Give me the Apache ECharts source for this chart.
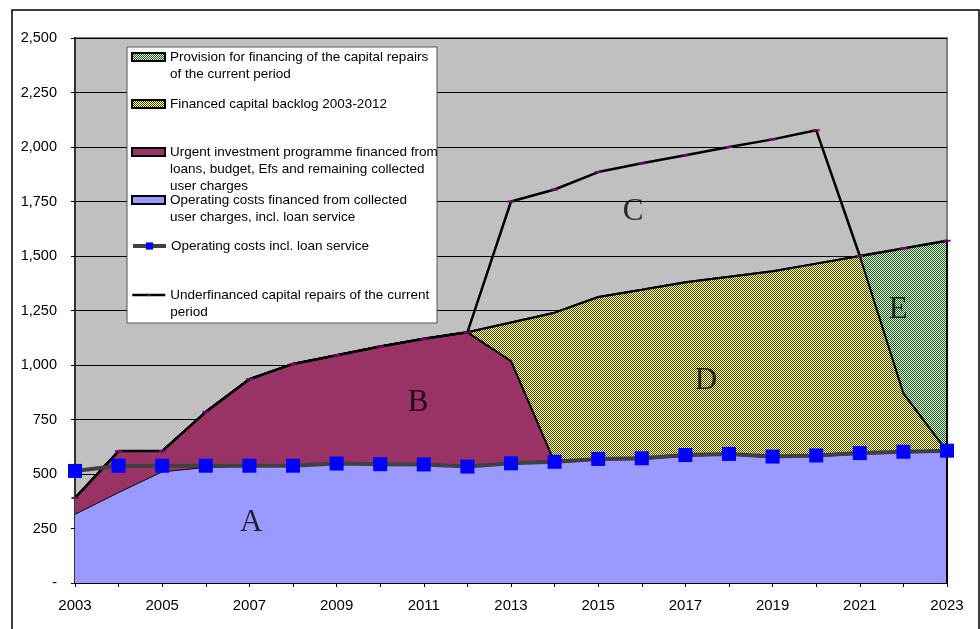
<!DOCTYPE html>
<html>
<head>
<meta charset="utf-8">
<title>Financing of operating costs and capital repairs 2003-2023</title>
<script src="https://cdn.jsdelivr.net/npm/echarts@6/dist/echarts.min.js"></script>
<style>
  html, body { margin: 0; padding: 0; background: #fff; }
  #chart { width: 980px; height: 629px; }
</style>
</head>
<body>
<div id="chart"></div>
<script>
// categories
const years = ['2003', '2004', '2005', '2006', '2007', '2008', '2009', '2010', '2011', '2012', '2013',
  '2014', '2015', '2016', '2017', '2018', '2019', '2020', '2021', '2022', '2023'];

// stacked areas (bottom to top)
const opFinanced = [315, 415, 510, 530, 535, 535, 545, 542, 541, 531, 546, 553, 566, 569, 584, 589, 577, 582, 593, 599, 604];
const urgentInvest = [75, 190, 95, 255, 400, 470, 500, 543, 579, 619, 472, 0, 0, 0, 0, 0, 0, 0, 0, 0, 0];
const backlog = [0, 0, 0, 0, 0, 0, 0, 0, 0, 0, 177, 687, 746, 776, 796, 816, 853, 883, 907, 271, 0];
const provision = [0, 0, 0, 0, 0, 0, 0, 0, 0, 0, 0, 0, 0, 0, 0, 0, 0, 0, 0, 665, 966];

// lines
const opCosts = [514, 538, 538, 538, 538, 538, 548, 545, 544, 534, 549, 556, 569, 572, 587, 592, 580, 585, 596, 602, 607];
const underfinanced = [390, 605, 605, 785, 935, 1005, 1045, 1085, 1120, 1150, 1750, 1805, 1885, 1925, 1962, 2000, 2035, 2077, 1500, 1535, 1570];

// region letters, placed in data units (year, value)
const regionNames = ['A', 'B', 'C', 'D', 'E'];
const regionYears = [2007.04, 2010.87, 2015.8, 2017.47, 2021.88];
const regionValues = [275, 826, 1701, 927, 1252];

// legend texts, already wrapped like the original
const legendLines = [
  ['Provision for financing of the capital repairs', 'of the current period'],
  ['Financed capital backlog 2003-2012'],
  ['Urgent investment programme financed from', 'loans, budget, Efs and remaining collected', 'user charges'],
  ['Operating costs financed from collected', 'user charges, incl. loan service'],
  ['Operating costs incl. loan service'],
  ['Underfinanced capital repairs of the current', 'period']
];
const names = legendLines.map(l => l.join(' '));

// 1px checker fill, like the Excel hatched areas
const checker = (light, dark) => {
  const c = document.createElement('canvas');
  c.width = 2; c.height = 2;
  const g = c.getContext('2d');
  g.fillStyle = light; g.fillRect(0, 0, 2, 2);
  g.fillStyle = dark; g.fillRect(0, 0, 1, 1); g.fillRect(1, 1, 1, 1);
  return { image: c, repeat: 'repeat' };
};
const greenFill = checker('#CCFFCC', '#2f4f2f');
const yellowFill = checker('#FFFF99', '#4a4a20');

const swatchFill = [greenFill, yellowFill, '#993366', '#9999FF'];
const legendFirstLine = [57, 104, 152, 200, 246, 295];
const LH = 17;

// legend look for the two line series
const lineLegendStyle = [
  { item: { color: '#0000FF', borderWidth: 0 }, line: { color: '#404040', width: 4 }, h: 9 },
  { item: { color: '#800080', borderWidth: 0 }, line: { color: '#000', width: 2.5 }, h: 3 }
];

// the icon sits in the middle of the text block, so blank lines in front
// push the first text line level with the icon (as Excel draws it)
const legends = legendLines.map((lines, i) => {
  const n = lines.length;
  const isArea = i < 4;
  const ls = isArea ? null : lineLegendStyle[i - 4];
  return {
    data: [isArea ? { name: names[i], icon: 'rect' } : { name: names[i] }],
    left: 131,
    top: legendFirstLine[i] - (2 * n - 1) * LH / 2,
    padding: 0,
    itemWidth: 33,
    itemHeight: isArea ? 8 : ls.h,
    itemStyle: isArea ? { color: swatchFill[i], borderColor: '#000', borderWidth: 2 } : ls.item,
    lineStyle: isArea ? undefined : ls.line,
    formatter: () => '\n'.repeat(n - 1) + lines.join('\n'),
    textStyle: {
      fontFamily: 'Liberation Sans, Arial, sans-serif',
      fontSize: 13.5,
      lineHeight: LH,
      color: '#000'
    },
    z: 6
  };
});

const last = years.length - 1;
const stackTop = opFinanced[last] + urgentInvest[last] + backlog[last] + provision[last];

const chart = echarts.init(document.getElementById('chart'));
chart.setOption({
  animation: false,
  textStyle: { fontFamily: 'Liberation Sans, Arial, sans-serif' },
  grid: {
    left: 75, right: 33, top: 38, bottom: 46,
    show: true,
    backgroundColor: '#C0C0C0',
    borderColor: '#808080',
    borderWidth: 2
  },
  legend: legends,
  graphic: [
    {
      type: 'rect',
      shape: { x: 12, y: 10, width: 967, height: 640 },
      style: { fill: 'none', stroke: '#000', lineWidth: 1.5 },
      silent: true,
      z: 0
    },
    {
      type: 'rect',
      shape: { x: 127, y: 47, width: 310, height: 276 },
      style: { fill: '#fff', stroke: '#555', lineWidth: 1 },
      silent: true,
      z: 5
    }
  ],
  xAxis: [
    {
      type: 'category',
      data: years,
      boundaryGap: false,
      axisLine: { lineStyle: { color: '#000', width: 2 } },
      axisTick: { interval: 0, length: 4, lineStyle: { color: '#000' } },
      axisLabel: { interval: 1, margin: 15, fontSize: 15, color: '#000' },
      splitLine: { show: false }
    },
    { type: 'value', min: 2003, max: 2023, show: false }
  ],
  yAxis: {
    type: 'value',
    min: 0,
    max: 2500,
    interval: 250,
    axisLine: { show: true, lineStyle: { color: '#333', width: 2 } },
    axisTick: { show: true, length: 4, lineStyle: { color: '#000' } },
    axisLabel: {
      margin: 18,
      fontSize: 14.5,
      color: '#000',
      formatter: v => (v === 0 ? '-' : v.toLocaleString('en-US'))
    },
    splitLine: { lineStyle: { color: '#000', width: 1 } }
  },
  series: [
    {
      name: names[3], type: 'line', stack: 'total', data: opFinanced,
      symbol: 'none',
      lineStyle: { color: '#000', width: 1 },
      itemStyle: { color: '#9999FF' },
      areaStyle: { color: '#9999FF', opacity: 1 },
      z: 2
    },
    {
      name: names[2], type: 'line', stack: 'total', data: urgentInvest,
      symbol: 'none',
      lineStyle: { color: '#000', width: 2 },
      itemStyle: { color: '#993366' },
      areaStyle: { color: '#993366', opacity: 1 },
      z: 2
    },
    {
      name: names[1], type: 'line', stack: 'total', data: backlog,
      symbol: 'none',
      lineStyle: { color: '#000', width: 2 },
      itemStyle: { color: yellowFill },
      areaStyle: { color: yellowFill, opacity: 1 },
      z: 2
    },
    {
      name: names[0], type: 'line', stack: 'total', data: provision,
      symbol: 'none',
      lineStyle: { color: '#000', width: 2 },
      itemStyle: { color: greenFill },
      areaStyle: { color: greenFill, opacity: 1 },
      markLine: {
        silent: true,
        symbol: 'none',
        label: { show: false },
        lineStyle: { color: '#000', width: 2, type: 'solid' },
        data: [[{ coord: [last, 0] }, { coord: [last, stackTop] }]]
      },
      z: 2
    },
    {
      name: names[5], type: 'line', data: underfinanced,
      symbol: 'rect', symbolSize: [7, 2], showAllSymbol: true,
      lineStyle: { color: '#000', width: 2.5 },
      itemStyle: { color: '#800080' },
      z: 4
    },
    {
      name: names[4], type: 'line', data: opCosts,
      symbol: 'rect', symbolSize: 14, showAllSymbol: true,
      lineStyle: { color: '#404040', width: 4 },
      itemStyle: { color: '#0000FF' },
      z: 5
    },
    {
      name: 'regions', type: 'scatter', xAxisIndex: 1,
      data: regionNames.map((n, i) => [regionYears[i], regionValues[i], n]),
      symbolSize: 0,
      silent: true,
      label: {
        show: true,
        position: 'inside',
        formatter: p => p.value[2],
        fontFamily: 'Liberation Serif, Times New Roman, serif',
        fontSize: 31,
        color: '#000'
      },
      z: 6
    }
  ]
});
</script>
</body>
</html>
